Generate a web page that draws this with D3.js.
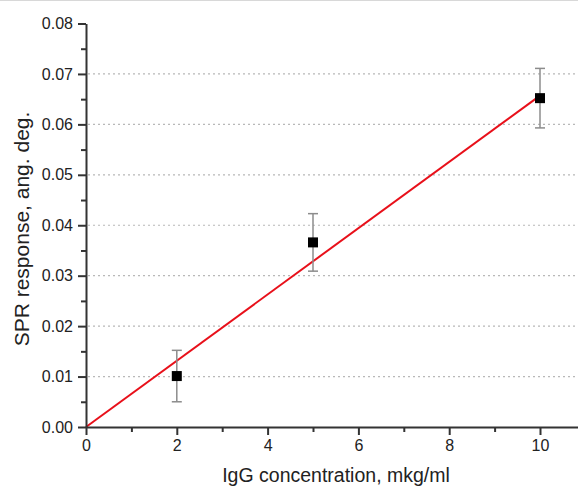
<!DOCTYPE html>
<html>
<head>
<meta charset="utf-8">
<script src="https://cdn.jsdelivr.net/npm/d3@7"></script>
<style>
  html, body { margin: 0; padding: 0; background: #fff; }
  svg { display: block; font-family: "Liberation Sans", Arial, sans-serif; }
</style>
</head>
<body>
<div id="chart"></div>
<script>
// measured points (IgG concentration vs SPR response)
const concentration = [2, 5, 10];
const response = [0.0101, 0.0366, 0.0652];
const errors = [0.0051, 0.0057, 0.0059];

// linear fit through origin
const fitX = [0, 10];
const fitY = [0, 0.0657];

const xTicks = [0, 2, 4, 6, 8, 10];
const xMinorTicks = [1, 3, 5, 7, 9];
const yTicks = [0, 0.01, 0.02, 0.03, 0.04, 0.05, 0.06, 0.07, 0.08];
const yMinorTicks = [0.005, 0.015, 0.025, 0.035, 0.045, 0.055, 0.065, 0.075];
const gridTicks = [0.01, 0.02, 0.03, 0.04, 0.05, 0.06, 0.07];

const width = 578;
const height = 486;

const svg = d3.select('#chart')
    .append('svg')
    .attr('width', width)
    .attr('height', height);

const x = d3.scaleLinear().domain([0, 11]).range([86, 585.4]);
const y = d3.scaleLinear().domain([0, 0.08]).range([427, 23.5]);

// thin frame line at top of the picture
svg.append('line')
    .attr('x1', 0).attr('x2', width)
    .attr('y1', 0.5).attr('y2', 0.5)
    .attr('stroke', '#d8d8d8');

// dotted grid
svg.append('g')
    .selectAll('line')
    .data(gridTicks)
    .join('line')
    .attr('x1', x(0) + 2)
    .attr('x2', width)
    .attr('y1', (d) => y(d))
    .attr('y2', (d) => y(d))
    .attr('stroke', '#b8b8b8')
    .attr('stroke-width', 1.2)
    .attr('stroke-dasharray', '2,3');

// fit line
svg.append('path')
    .datum(fitX.map((d, i) => [d, fitY[i]]))
    .attr('fill', 'none')
    .attr('stroke', '#e8101a')
    .attr('stroke-width', 2)
    .attr('d', d3.line().x((d) => x(d[0])).y((d) => y(d[1])));

// error bars
const pts = concentration.map((c, i) => ({c: c, v: response[i], e: errors[i]}));
const eb = svg.append('g')
    .attr('stroke', '#8c8c8c')
    .attr('stroke-width', 1.5);

eb.selectAll('.stem')
    .data(pts)
    .join('line')
    .attr('x1', (d) => x(d.c)).attr('x2', (d) => x(d.c))
    .attr('y1', (d) => y(d.v - d.e)).attr('y2', (d) => y(d.v + d.e));

eb.selectAll('.capTop')
    .data(pts)
    .join('line')
    .attr('x1', (d) => x(d.c) - 5).attr('x2', (d) => x(d.c) + 5)
    .attr('y1', (d) => y(d.v + d.e)).attr('y2', (d) => y(d.v + d.e));

eb.selectAll('.capBot')
    .data(pts)
    .join('line')
    .attr('x1', (d) => x(d.c) - 5).attr('x2', (d) => x(d.c) + 5)
    .attr('y1', (d) => y(d.v - d.e)).attr('y2', (d) => y(d.v - d.e));

// square markers
svg.append('g')
    .selectAll('rect')
    .data(pts)
    .join('rect')
    .attr('x', (d) => x(d.c) - 5)
    .attr('y', (d) => y(d.v) - 5)
    .attr('width', 10)
    .attr('height', 10)
    .attr('fill', '#000');

// axes
function styleAxis(g) {
  g.attr('font-size', 16)
      .attr('font-family', '"Liberation Sans", Arial, sans-serif');
  g.select('.domain').attr('stroke', '#333').attr('stroke-width', 2);
  g.selectAll('.tick line').attr('stroke', '#333').attr('stroke-width', 2);
  g.selectAll('.tick text').attr('fill', '#222');
}

svg.append('g')
    .attr('transform', `translate(0,${y(0)})`)
    .call(d3.axisBottom(x).tickValues(xMinorTicks).tickSize(5)
        .tickFormat('').tickSizeOuter(0))
    .call((g) => g.select('.domain').remove())
    .call(styleAxis);

svg.append('g')
    .attr('transform', `translate(0,${y(0)})`)
    .call(d3.axisBottom(x).tickValues(xTicks).tickSize(8)
        .tickPadding(5).tickFormat(d3.format('d')).tickSizeOuter(0))
    .call(styleAxis);

svg.append('g')
    .attr('transform', `translate(${x(0)},0)`)
    .call(d3.axisLeft(y).tickValues(yMinorTicks).tickSize(5)
        .tickFormat('').tickSizeOuter(0))
    .call((g) => g.select('.domain').remove())
    .call(styleAxis);

svg.append('g')
    .attr('transform', `translate(${x(0)},0)`)
    .call(d3.axisLeft(y).tickValues(yTicks).tickSize(8)
        .tickPadding(5).tickFormat(d3.format('.2f')).tickSizeOuter(0))
    .call(styleAxis);

// axis titles
svg.append('text')
    .attr('x', 336)
    .attr('y', 482)
    .attr('text-anchor', 'middle')
    .attr('fill', '#222')
    .style('font-size', '19.5px')
    .text('IgG concentration, mkg/ml');

svg.append('text')
    .attr('transform', 'translate(29,229) rotate(-90)')
    .attr('text-anchor', 'middle')
    .attr('fill', '#222')
    .style('font-size', '21px')
    .text('SPR response, ang. deg.');
</script>
</body>
</html>
